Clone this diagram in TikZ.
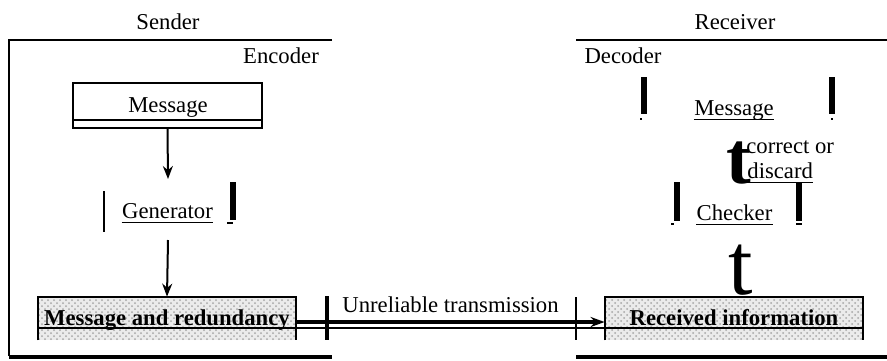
\documentclass[tikz,border=0pt]{standalone}
\usepackage{fontspec}
\setmainfont{Liberation Serif}
\usetikzlibrary{arrows.meta,patterns}
\begin{document}
\begin{tikzpicture}[x=0.5pt,y=-0.5pt,
  lbl/.style={inner sep=0pt, anchor=base, font=\fontsize{11.35}{13}\selectfont},
  lblw/.style={lbl, anchor=base west},
  boxt/.style={inner sep=0pt, anchor=base, font=\fontsize{11.35}{13}\selectfont\bfseries},
  frame/.style={line width=1pt},
  heavy/.style={line width=1.8pt},
  bar/.style={line width=2.6pt},
  slimbar/.style={line width=1.2pt},
  tick/.style={line width=0.6pt},
  flow/.style={line width=1pt, -{Stealth[length=6.5pt,width=5pt]}},
  wire/.style={line width=1.6pt, -{Stealth[length=7pt,width=5pt]}},
  ul/.style={line width=0.5pt},
  msgbox/.style={draw, line width=1pt, inner sep=0pt, minimum width=94.5pt, minimum height=22.5pt},
  shadebox/.style={fill=black!8, inner sep=0pt, minimum width=129pt, minimum height=21.5pt},
  speckle/.style={pattern=crosshatch dots, pattern color=black!35},
  bigt/.style={inner sep=0pt, anchor=base west},
]
\useasboundingbox (0,0) rectangle (887,360);

% frames
\draw[frame] (332,40) -- (9,40) -- (9,356);
\draw[heavy] (9,357) -- (332,357);
\draw[frame] (576,40) -- (887,40);
\draw[heavy] (576,357) -- (887,357);

% headings
\node[lbl] (sender) at (168,29) {Sender};
\node[lbl] (receiver) at (735,29) {Receiver};
\node[lbl] (encoder) at (281,63) {Encoder};
\node[lbl] (decoder) at (623,63) {Decoder};

% sender: message box
\node[msgbox] (msg) at (167.5,105.5) {};
\draw[line width=0.8pt] ([yshift=4.5pt]msg.south west) -- ([yshift=4.5pt]msg.south east);
\node[lbl] (msgtxt) at (168,112) {Message};

% generator
\node[lbl] (gen) at (167.5,218) {Generator};
\draw[ul] ([yshift=-2pt]gen.base west) -- ([yshift=-2pt]gen.base east);
\draw[slimbar] (104,191) -- (104,232);
\draw[bar] (233,182) -- (233,220);
\draw[tick] (227,223) -- (233,223);
\coordinate (genin) at (168,179);
\coordinate (genout) at (168,240);

% message and redundancy
\node[shadebox] (mr) at (167,318.5) {};
\fill[speckle] (mr.south west) rectangle (mr.north east);
\draw[line width=1pt] (mr.south west) -- (mr.north west) -- (mr.north east) -- (mr.south east);
\node[boxt] (mrtxt) at (167,325) {Message and redundancy};

% received information
\node[shadebox] (ri) at (734,318.5) {};
\fill[speckle] (ri.south west) rectangle (ri.north east);
\draw[line width=1pt] (ri.south west) -- (ri.north west) -- (ri.north east) -- (ri.south east);
\node[boxt] (ritxt) at (734,325) {Received information};

% inner line through both boxes
\draw[line width=0.6pt] ([yshift=-4.75pt]mr.west) -- ([yshift=-4.75pt]ri.east);

% transmission
\draw[line width=2pt] (327,296) -- (327,340);
\draw[line width=1pt] (576,297) -- (576,340);
\node[lblw] (ut) at (342,312) {Unreliable transmission};
\draw[wire] ([yshift=-1.75pt]mr.east) -- ([yshift=-1.75pt]ri.west);

% sender arrows
\draw[flow] (msg.south) -- (genin);
\draw[flow] (genout) -- (mr.north);

% receiver: message
\node[lbl] (rmsg) at (734,115) {Message};
\draw[ul] ([yshift=-2pt]rmsg.base west) -- ([yshift=-2pt]rmsg.base east);
\draw[bar] (644,77) -- (644,114);
\draw[bar] (832,77) -- (832,114);
\draw[tick] (640,119) -- (642,119);
\draw[tick] (831,119) -- (833,119);

% correct or discard
\node[bigt, font=\fontsize{37}{40}\selectfont\bfseries] (t1) at (726,183) {t};
\node[lblw] (corr) at (746,153) {correct or};
\node[lblw] (disc) at (747,178) {discard};
\draw[ul] ([yshift=-2pt]disc.base west) -- ([yshift=-2pt]disc.base east);

% checker
\node[lbl] (chk) at (734.5,220) {Checker};
\draw[ul] ([yshift=-2pt]chk.base west) -- ([yshift=-2pt]chk.base east);
\draw[bar] (677,182) -- (677,221);
\draw[bar] (799,182) -- (799,221);
\draw[tick] (671,224) -- (674,224);
\draw[tick] (796,224) -- (802,224);

% big t above received information
\node[bigt, font=\fontsize{44}{48}\selectfont] (t2) at (728,294) {t};
\end{tikzpicture}
\end{document}
